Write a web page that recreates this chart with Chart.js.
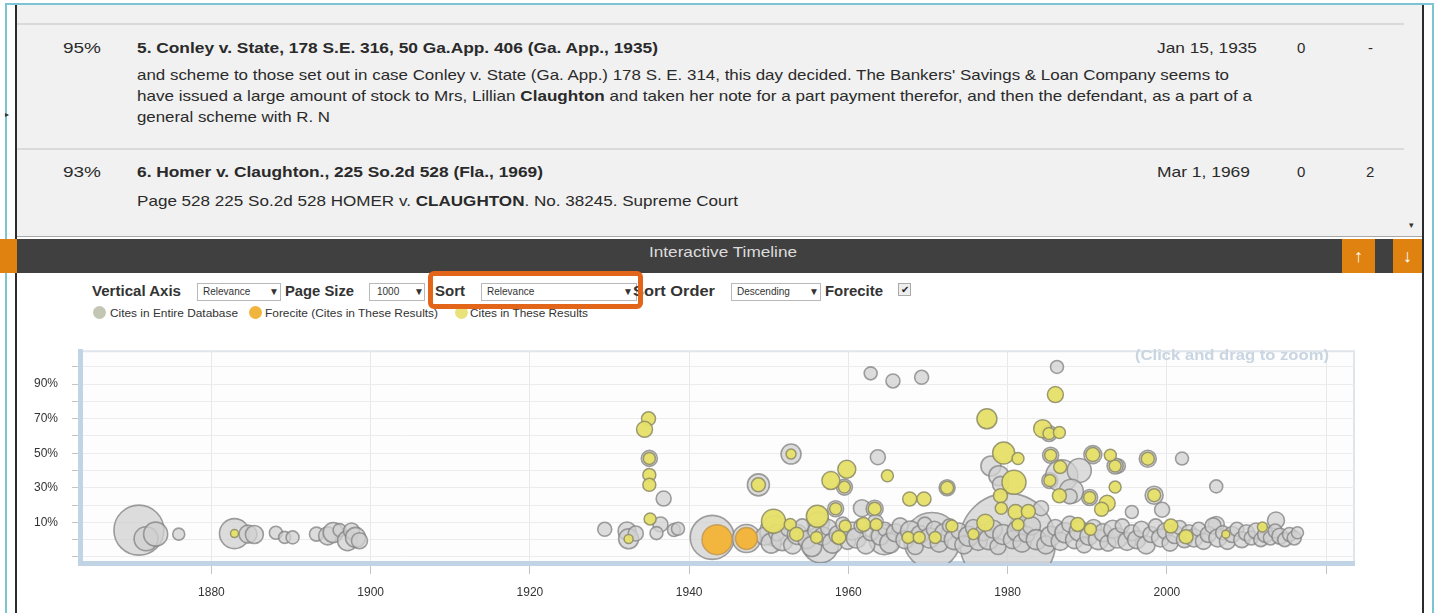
<!DOCTYPE html>
<html><head><meta charset="utf-8">
<script src="https://cdn.jsdelivr.net/npm/chart.js@4.4.1/dist/chart.umd.min.js"></script>
<style>
html,body{margin:0;padding:0;width:1440px;height:613px;overflow:hidden;background:#fff;font-family:"Liberation Sans",Arial,sans-serif;}
.a{position:absolute;white-space:nowrap;}
.row{font-size:15px;line-height:20px;color:#2a2a2a;}
.b{font-weight:bold;}
.ctl{font-size:14px;line-height:18px;font-weight:bold;color:#333;}
.sel{position:absolute;height:16px;border:1px solid #b9b9b9;background:#fff;font-size:10px;line-height:16px;color:#333;box-sizing:content-box;}
.sel span{position:absolute;}
.leg{font-size:11px;line-height:14px;color:#333;}
.dot{position:absolute;width:13px;height:13px;border-radius:50%;}
</style></head><body>
<!-- frame -->
<div class="a" style="left:5px;top:3px;width:1429px;height:620px;border-left:2px solid #7cc4d4;border-top:2px solid #7cc4d4;border-right:2px solid #7cc4d4;box-sizing:border-box;"></div>
<div class="a" style="left:15px;top:5px;width:1409px;height:610px;border-left:2px solid #2b2b2b;border-right:2px solid #2b2b2b;box-sizing:border-box;"></div>
<!-- list area -->
<div class="a" style="left:17px;top:5px;width:1405px;height:231px;background:#f1f1f1;border-bottom:1px solid #a8a8a8;"></div>
<div class="a" style="left:17px;top:23px;width:1387px;height:2px;background:#dadada;"></div>
<div class="a" style="left:17px;top:148px;width:1387px;height:2px;background:#dadada;"></div>
<div class="a" style="left:1409px;top:220px;font-size:9px;color:#333;">&#9662;</div>
<div class="a" style="left:5px;top:110px;font-size:8px;color:#333;">&#9656;</div>

<div class="a row" style="left:63px;top:38px;" data-w="38">95%</div>
<div class="a row b" style="left:137px;top:38px;" data-w="521">5. Conley v. State, 178 S.E. 316, 50 Ga.App. 406 (Ga. App., 1935)</div>
<div class="a row" style="left:1157px;top:38px;" data-w="100">Jan 15, 1935</div>
<div class="a row" style="left:1297px;top:38px;">0</div>
<div class="a row" style="left:1368px;top:38px;">-</div>
<div class="a row" style="left:137px;top:65px;" data-w="1092">and scheme to those set out in case Conley v. State (Ga. App.) 178 S. E. 314, this day decided. The Bankers' Savings &amp; Loan Company seems to</div>
<div class="a row" style="left:137px;top:86px;" data-w="1115">have issued a large amount of stock to Mrs, Lillian <b>Claughton</b> and taken her note for a part payment therefor, and then the defendant, as a part of a</div>
<div class="a row" style="left:137px;top:107px;" data-w="193">general scheme with R. N</div>

<div class="a row" style="left:63px;top:162px;" data-w="38">93%</div>
<div class="a row b" style="left:137px;top:162px;" data-w="406">6. Homer v. Claughton., 225 So.2d 528 (Fla., 1969)</div>
<div class="a row" style="left:1157px;top:162px;" data-w="93">Mar 1, 1969</div>
<div class="a row" style="left:1297px;top:162px;">0</div>
<div class="a row" style="left:1366px;top:162px;">2</div>
<div class="a row" style="left:137px;top:191px;" data-w="601">Page 528 225 So.2d 528 HOMER v. <b>CLAUGHTON</b>. No. 38245. Supreme Court</div>

<!-- dark bar -->
<div class="a" style="left:0px;top:239px;width:17px;height:34px;background:#e0820f;"></div>
<div class="a" style="left:17px;top:239px;width:1405px;height:34px;background:#404040;"></div>
<div class="a" style="left:649px;top:243px;font-size:15px;line-height:18px;color:#dcdcdc;" data-w="148">Interactive Timeline</div>
<div class="a" style="left:1342px;top:239px;width:33px;height:34px;background:#e0820f;color:#fff;font-size:18px;line-height:34px;text-align:center;font-weight:bold;">&#8593;</div>
<div class="a" style="left:1393px;top:239px;width:29px;height:34px;background:#e0820f;color:#fff;font-size:18px;line-height:34px;text-align:center;font-weight:bold;">&#8595;</div>

<!-- controls -->
<div class="a ctl" style="left:92px;top:282px;" data-w="89">Vertical Axis</div>
<div class="sel" style="left:197px;top:283px;width:82px;"><span style="left:5px;">Relevance</span><span style="left:71px;">&#9660;</span></div>
<div class="a ctl" style="left:285px;top:282px;" data-w="69">Page Size</div>
<div class="sel" style="left:369px;top:283px;width:54px;"><span style="left:7px;">1000</span><span style="left:44px;">&#9660;</span></div>
<div class="a ctl" style="left:435px;top:282px;" data-w="30">Sort</div>
<div class="sel" style="left:481px;top:283px;width:154px;"><span style="left:5px;">Relevance</span><span style="left:141px;">&#9660;</span></div>
<div class="a ctl" style="left:633px;top:282px;" data-w="82">Sort Order</div>
<div class="sel" style="left:731px;top:283px;width:88px;"><span style="left:5px;">Descending</span><span style="left:77px;">&#9660;</span></div>
<div class="a ctl" style="left:825px;top:282px;" data-w="58">Forecite</div>
<div class="a" style="left:898px;top:283px;width:11px;height:11px;border:1px solid #aaa;background:#eee;font-size:10px;line-height:11px;text-align:center;color:#222;">&#10004;</div>

<!-- legend -->
<div class="dot" style="left:93px;top:306px;background:#c4c6b4;"></div>
<div class="a leg" style="left:110px;top:306px;" data-w="128">Cites in Entire Database</div>
<div class="dot" style="left:249px;top:306px;background:#f1b43c;"></div>
<div class="a leg" style="left:265px;top:306px;" data-w="173">Forecite (Cites in These Results)</div>
<div class="dot" style="left:455px;top:306px;background:#e9e27a;"></div>
<div class="a leg" style="left:470px;top:306px;" data-w="118">Cites in These Results</div>

<!-- highlight box -->
<div class="a" style="left:428px;top:271px;width:215px;height:38px;border:5px solid #e2651a;border-radius:6px;box-sizing:border-box;"></div>

<!-- chart -->
<div class="a" style="left:20px;top:330px;width:1380px;height:283px;"><canvas id="c" width="1380" height="283"></canvas></div>
<div class="a" style="left:1135px;top:346px;font-size:15px;line-height:18px;font-weight:bold;color:#c9d5e1;" data-w="194">(Click and drag to zoom)</div>

<script>
// ---- axis ticks ----
const xTickYears = [1880, 1900, 1920, 1940, 1960, 1980, 2000, 2020];
const xTickLabels = ['1880', '1900', '1920', '1940', '1960', '1980', '2000', ''];
const yTickValues = [-10, 0, 10, 20, 30, 40, 50, 60, 70, 80, 90, 100];
const yTickLabels = ['', '', '10%', '', '30%', '', '50%', '', '70%', '', '90%', ''];

// ---- Cites in Entire Database (gray) : year, relevance %, bubble size ----
const grayYear = [
 1870.9,1871.8,1873.0,1875.9,1882.9,1884.6,1885.4,1888.1,1889.2,1890.2,1893.2,1894.6,1895.3,1896.1,1897.1,1897.6,1898.1,1898.6,
 1929.4,1932.2,1932.4,1933.3,1936.8,1936.4,1935.9,1938.1,1938.6,1935.0,1942.9,1947.2,1948.7,1952.8,
 1962.8,1965.6,1969.2,1963.7,1959.5,1972.4,1961.7,1963.3,1958.4,1956.2,
 1986.2,1985.2,1985.4,1985.3,1990.7,1993.9,1993.5,1997.6,2001.9,2006.2,1998.4,1990.3,1981.3,1977.9,1978.9,1979.1,
 1986.8,1989.0,1988.0,1987.8,1980.0,1999.4,1995.6,1984.2,2013.7,2006.2,1970.5,1956.5,1950.8,1964.5,
 1949.5,1950.3,1951.0,1951.7,1952.4,1953.0,1953.6,1954.2,1954.8,1955.4,1955.9,1956.8,1957.5,1958.0,1958.7,1959.3,1959.9,
 1960.5,1961.0,1961.6,1962.2,1962.8,1963.4,1964.0,1964.6,1965.2,1965.9,1966.5,1967.1,1967.8,1968.4,1969.0,1969.6,
 1970.2,1970.8,1971.4,1972.0,1972.7,1973.3,1973.9,1974.5,1975.1,1975.7,1976.3,1976.9,1977.6,1978.2,1978.8,1979.4,
 1980.6,1981.2,1981.8,1982.4,1983.0,1983.6,1984.8,1985.4,1986.0,1986.6,1987.2,1987.8,1988.4,1989.0,1989.6,
 1990.2,1990.8,1991.4,1992.0,1992.6,1993.2,1993.8,1994.4,1995.0,1995.6,1996.2,1996.8,1997.4,1998.0,1998.6,1999.2,1999.8,
 2000.4,2001.0,2001.6,2002.2,2002.8,2003.4,2004.0,2004.6,2005.2,2005.8,2006.4,2007.0,2007.6,2008.2,2008.8,2009.4,
 2010.0,2010.6,2011.2,2011.8,2012.4,2013.0,2013.6,2014.2,2014.8,2015.4,2016.0,2016.4
];
const grayRel = [
 5.5,0.5,3.2,3.2,3.5,3.2,3.0,4.0,1.3,1.3,3.2,2.2,4.1,5.5,-0.6,5.0,1.3,-0.6,
 6.0,5.0,0.5,3.6,23.8,8.8,3.8,5.6,6.3,47.0,1.3,0.7,31.7,49.5,
 96.2,91.8,93.9,47.7,30.4,30.0,18.2,17.9,17.9,9.8,
 99.9,61.4,48.8,34.2,49.2,42.6,42.6,46.8,46.9,30.8,25.7,24.4,8.8,42.6,37.0,32.0,
 37.0,40.0,28.0,25.0,-1.0,17.3,16.0,18.2,11.1,8.8,-0.5,-3.0,5.0,0.0,
 2,-2,4,0,6,-3,3,8,0,-4,5,2,7,-2,3,9,-1,
 5,1,8,-3,4,10,2,6,-2,4,8,0,5,-4,3,9,
 1,6,-2,4,8,0,5,-3,2,7,-1,4,0,6,-4,3,
 0,5,-2,3,8,0,-3,2,7,-1,4,9,0,5,-3,
 2,7,0,4,-2,6,1,8,-1,4,0,6,-3,3,8,1,5,
 -2,3,7,0,4,1,6,-1,3,8,1,4,-1,3,6,0,
 4,1,5,0,3,1,5,2,0,3,1,4
];
const graySize = [
 25,12,12,6,15,9,9,6.5,6,6.5,7,9,10,6.5,10,8,10,8,
 7,9,10,7.5,7.5,7.5,6.5,6.5,6.5,8,22,14,11,10,
 6.5,7,7,7.5,8,8,8.5,8.5,8,11,
 6.5,8,8,8,9,7,8,8.5,6.5,6.5,9,8,8,10,10,8,
 16,12,12,7.5,48,7.5,6.5,7.5,8.5,8,28,18,15,15,
 9,10,8,11,7,9,10,7,9,10,8,9,8,10,9,7,8,
 9,10,7,9,8,8,9,7,10,9,8,9,10,8,9,7,
 10,8,9,9,7,10,8,9,10,8,9,8,10,9,8,10,
 9,10,9,8,9,10,9,10,8,9,10,8,9,10,8,
 9,8,10,9,8,9,10,7,9,8,9,8,9,8,7,9,8,
 8,9,7,8,8,9,7,8,8,8,9,7,8,8,7,8,
 8,7,8,7,8,7,7,8,7,7,7,6
];

// ---- Cites in These Results (yellow) ----
const yellowYear = [
 1882.9,1932.4,1934.9,1934.4,1935.0,1935.0,1935.0,1935.1,1948.7,1952.8,
 1977.4,1964.9,1959.8,1957.8,1959.5,1972.4,1967.7,1969.5,1958.4,1963.3,1956.1,1950.6,
 1952.7,1953.5,1959.6,1958.8,1961.9,1956.0,1963.5,1967.5,1968.9,1970.9,1973.0,
 1986.0,1984.4,1985.2,1986.5,1979.5,1981.3,1985.4,1986.6,1990.7,1992.9,1993.5,1997.6,
 1980.8,1985.3,1986.5,1990.3,1992.5,1991.8,1993.5,1998.4,1979.1,1979.2,1981.0,1982.6,1981.3,1977.2,1975.7,
 1988.8,1990.4,2000.5,2002.4,2007.4,2012.0
];
const yellowRel = [
 3.5,0.4,69.9,63.8,47.0,37.4,31.7,12.0,31.7,49.5,
 69.9,37.0,40.7,34.2,30.4,30.0,23.5,23.5,17.9,17.9,13.5,10.7,
 8.8,3.2,7.9,1.3,8.8,1.3,8.8,1.3,1.3,1.3,7.9,
 83.9,64.2,61.4,62.0,50.1,46.9,48.8,42.0,49.2,48.8,42.6,46.8,
 33.2,34.2,25.4,24.4,21.0,17.6,30.4,25.7,25.4,18.2,16.0,16.3,8.8,9.8,3.2,
 8.8,6.0,7.9,1.7,3.2,7.3
];
const yellowSize = [
 4,4.5,7,8,6,6.5,6.5,6,7,5,
 10,6,9,9,6,6.5,7,7,6,6.5,11,12,
 6,7,6,7,7,6,6,6,6,6,6,
 8,9,6,6,11,6,6,6.5,7,6,6,6.5,
 12,6,7,6,8,7,6,6.5,7,6,7.5,7,6,8.5,5.5,
 7,6,7,7,4,5
];

// ---- Forecite (orange) ----
const orangeYear = [1943.5, 1947.2];
const orangeRel = [0.0, 0.7];
const orangeSize = [15, 11];

function pts(xs, ys, rs) { return xs.map((x, i) => ({ x: x, y: ys[i], r: rs[i] })); }

const frame = {
  id: 'frame',
  beforeDraw(c) {
    const a = c.chartArea, g = c.ctx;
    g.save(); g.fillStyle = '#fdfdfd'; g.fillRect(a.left, a.top, a.right - a.left, a.bottom - a.top);
    g.strokeStyle = '#dfe5ea'; g.lineWidth = 2;
    g.beginPath(); g.moveTo(a.left, a.top); g.lineTo(a.right, a.top); g.lineTo(a.right, a.bottom); g.stroke();
    g.restore();
  }
};

new Chart(document.getElementById('c'), {
  type: 'bubble',
  data: {
    datasets: [
      { label: 'Cites in These Results', data: pts(yellowYear, yellowRel, yellowSize), order: 1,
        backgroundColor: 'rgba(230,224,104,0.95)', borderColor: 'rgba(140,138,100,0.85)', borderWidth: 1.5, clip: 0 },
      { label: 'Forecite (Cites in These Results)', data: pts(orangeYear, orangeRel, orangeSize), order: 2,
        backgroundColor: 'rgba(242,178,52,0.95)', borderColor: 'rgba(190,150,80,0.8)', borderWidth: 1.5, clip: 0 },
      { label: 'Cites in Entire Database', data: pts(grayYear, grayRel, graySize), order: 3,
        backgroundColor: 'rgba(208,208,208,0.75)', borderColor: 'rgba(128,128,128,0.75)', borderWidth: 1.6, clip: 0 }
    ]
  },
  options: {
    responsive: false, animation: false, events: [],
    layout: { autoPadding: false, padding: { top: 15, right: 46, left: 0, bottom: 0 } },
    plugins: { legend: { display: false }, tooltip: { enabled: false } },
    scales: {
      x: {
        type: 'linear', min: 1863.5, max: 2023.5,
        afterBuildTicks: s => { s.ticks = xTickYears.map(v => ({ value: v })); },
        afterFit: s => { s.height = 50; },
        ticks: { callback: (v, i) => xTickLabels[i], color: '#333', font: { family: 'Liberation Sans', size: 12 }, padding: 11, maxRotation: 0, autoSkip: false },
        grid: { color: '#e8e8e8', tickColor: '#c4c4c4', tickLength: 11, lineWidth: 1 },
        border: { color: '#c1d4e5', width: 5 }
      },
      y: {
        type: 'linear', min: -13.5, max: 109,
        afterBuildTicks: s => { s.ticks = yTickValues.map(v => ({ value: v })); },
        afterFit: s => { s.width = 60; },
        ticks: { callback: (v, i) => yTickLabels[i], color: '#333', font: { family: 'Liberation Sans', size: 12 }, padding: 14, autoSkip: false },
        grid: { color: '#ececec', tickColor: '#c4c4c4', tickLength: 8, lineWidth: 1 },
        border: { color: '#c1d4e5', width: 5 }
      }
    }
  },
  plugins: [frame]
});

document.querySelectorAll('[data-w]').forEach(el => {
  const w = el.getBoundingClientRect().width, t = +el.dataset.w;
  if (w > 0) { el.style.transformOrigin = '0 50%'; el.style.transform = 'scaleX(' + (t / w) + ')'; }
});
</script>
</body></html>
